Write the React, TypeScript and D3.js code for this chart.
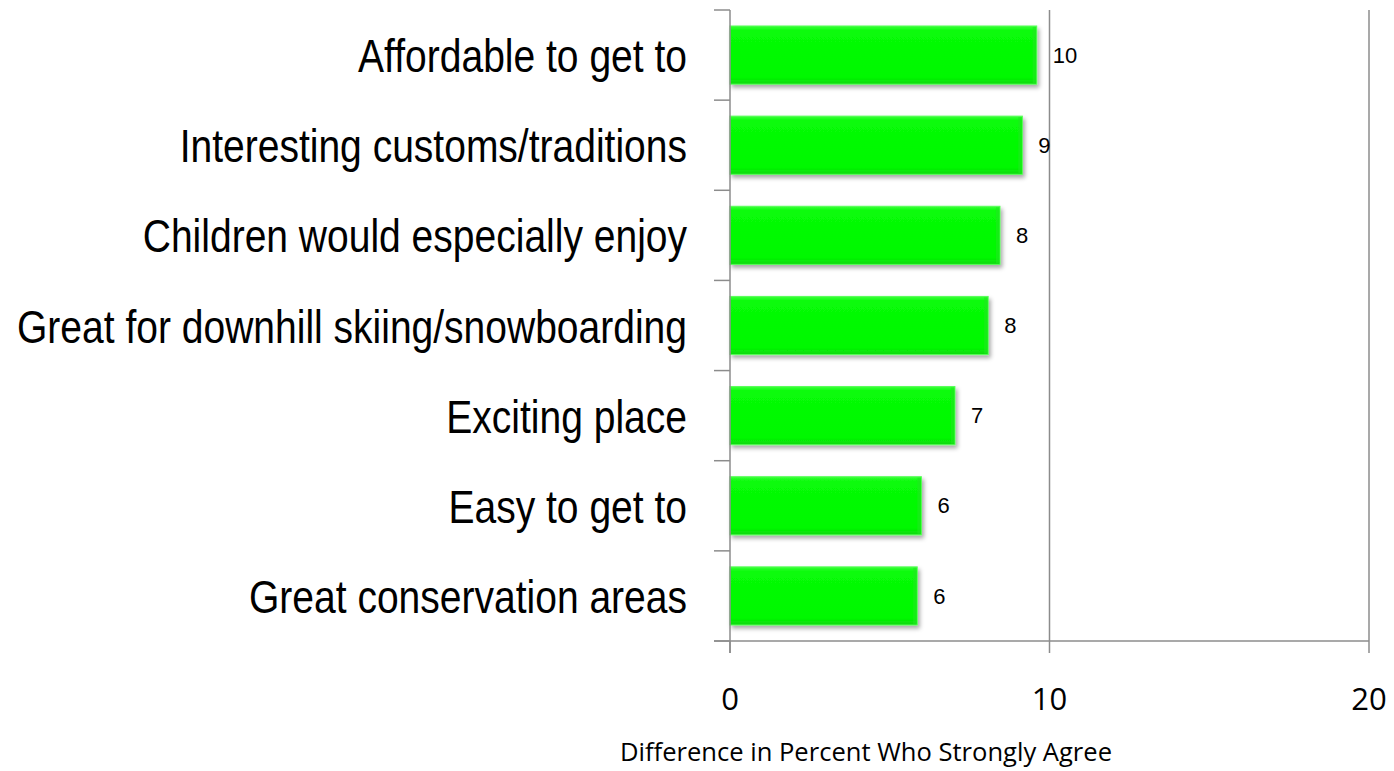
import { useEffect, useRef } from "react";
import * as d3 from "d3";

const categories = [
  "Affordable to get to",
  "Interesting customs/traditions",
  "Children would especially enjoy",
  "Great for downhill skiing/snowboarding",
  "Exciting place",
  "Easy to get to",
  "Great conservation areas",
];
const values = [9.6, 9.15, 8.45, 8.08, 7.04, 5.99, 5.86];
const xTicks = [0, 10, 20];
const xTitle = "Difference in Percent Who Strongly Agree";

export default function App() {
  const svgRef = useRef<SVGSVGElement | null>(null);

  useEffect(() => {
    if (!svgRef.current) return;
    const svg = d3.select(svgRef.current);
    svg.selectAll("*").remove();

    const width = 1394;
    const height = 771;
    const plot = { left: 730, right: 1369, top: 10, bottom: 641 };
    const axisColor = "#8c8c8c";

    const rows = categories.map((name, i) => ({ name, value: values[i] }));

    const x = d3.scaleLinear().domain([0, 20]).range([plot.left, plot.right]);
    const y = d3
      .scaleBand<string>()
      .domain(categories)
      .range([plot.top, plot.bottom])
      .paddingInner(0.355)
      .paddingOuter(0.1775);

    svg.attr("viewBox", `0 0 ${width} ${height}`);

    const defs = svg.append("defs");
    const shadow = defs
      .append("filter")
      .attr("id", "bar-shadow")
      .attr("x", "-10%")
      .attr("y", "-20%")
      .attr("width", "130%")
      .attr("height", "160%");
    shadow
      .append("feDropShadow")
      .attr("dx", 2)
      .attr("dy", 3)
      .attr("stdDeviation", 2)
      .attr("flood-color", "#000")
      .attr("flood-opacity", 0.35);

    const grad = defs
      .append("linearGradient")
      .attr("id", "bar-fill")
      .attr("x1", "0%")
      .attr("y1", "0%")
      .attr("x2", "0%")
      .attr("y2", "100%");
    grad
      .selectAll("stop")
      .data([
        { offset: "0%", color: "#3dff3d" },
        { offset: "8%", color: "#08fb08" },
        { offset: "88%", color: "#00f800" },
        { offset: "100%", color: "#10d810" },
      ])
      .join("stop")
      .attr("offset", (d) => d.offset)
      .attr("stop-color", (d) => d.color);

    // vertical gridlines
    svg
      .append("g")
      .selectAll("line")
      .data(xTicks.filter((t) => t > 0))
      .join("line")
      .attr("x1", (d) => x(d))
      .attr("x2", (d) => x(d))
      .attr("y1", plot.top)
      .attr("y2", plot.bottom)
      .attr("stroke", axisColor)
      .attr("stroke-width", 1.5);

    // bars
    const bars = svg.append("g");
    bars
      .selectAll("rect.bar")
      .data(rows)
      .join("rect")
      .attr("class", "bar")
      .attr("x", x(0))
      .attr("y", (d) => y(d.name)!)
      .attr("width", (d) => x(d.value) - x(0))
      .attr("height", y.bandwidth())
      .attr("fill", "url(#bar-fill)")
      .attr("stroke", "#55ff55")
      .attr("stroke-width", 1)
      .attr("filter", "url(#bar-shadow)");

    // right bevel edge
    bars
      .selectAll("rect.edge")
      .data(rows)
      .join("rect")
      .attr("class", "edge")
      .attr("x", (d) => x(d.value) - 4)
      .attr("y", (d) => y(d.name)! + 1)
      .attr("width", 3.5)
      .attr("height", y.bandwidth() - 2)
      .attr("fill", "#22e622")
      .attr("opacity", 0.6);

    // value labels
    svg
      .append("g")
      .selectAll("text")
      .data(rows)
      .join("text")
      .attr("x", (d) => x(d.value) + 16)
      .attr("y", (d) => y(d.name)! + y.bandwidth() / 2)
      .attr("dy", "0.35em")
      .attr("font-family", "'Liberation Sans', Arial, sans-serif")
      .attr("font-size", 22)
      .attr("fill", "#000")
      .text((d) => Math.round(d.value));

    // left axis
    const yAxis = svg.append("g");
    yAxis
      .append("line")
      .attr("x1", plot.left)
      .attr("x2", plot.left)
      .attr("y1", plot.top)
      .attr("y2", plot.bottom + 12)
      .attr("stroke", axisColor)
      .attr("stroke-width", 1.5);
    const bounds = d3.range(categories.length + 1).map((i) => plot.top + i * y.step());
    yAxis
      .selectAll("line.tick")
      .data(bounds)
      .join("line")
      .attr("class", "tick")
      .attr("x1", plot.left - 16)
      .attr("x2", plot.left)
      .attr("y1", (d) => d)
      .attr("y2", (d) => d)
      .attr("stroke", axisColor)
      .attr("stroke-width", 1.5);
    // category labels: tall, slightly condensed Arial
    yAxis
      .selectAll("text")
      .data(categories)
      .join("text")
      .attr(
        "transform",
        (d) => `translate(${plot.left - 43},${y(d)! + y.bandwidth() / 2 + 17}) scale(0.83,1)`,
      )
      .attr("text-anchor", "end")
      .attr("font-family", "'Liberation Sans', Arial, sans-serif")
      .attr("font-size", 47)
      .attr("fill", "#000")
      .text((d) => d);

    // bottom axis
    const xAxis = svg.append("g");
    xAxis
      .append("line")
      .attr("x1", plot.left - 16)
      .attr("x2", plot.right)
      .attr("y1", plot.bottom)
      .attr("y2", plot.bottom)
      .attr("stroke", axisColor)
      .attr("stroke-width", 1.5);
    xAxis
      .selectAll("line.tick")
      .data(xTicks)
      .join("line")
      .attr("class", "tick")
      .attr("x1", (d) => x(d))
      .attr("x2", (d) => x(d))
      .attr("y1", plot.bottom)
      .attr("y2", plot.bottom + 12)
      .attr("stroke", axisColor)
      .attr("stroke-width", 1.5);
    xAxis
      .selectAll("text.tick-label")
      .data(xTicks)
      .join("text")
      .attr("class", "tick-label")
      .attr("x", (d) => x(d))
      .attr("y", 710)
      .attr("text-anchor", "middle")
      .attr("font-family", "'Open Sans', sans-serif")
      .attr("font-size", 31)
      .attr("fill", "#000")
      .text((d) => d);

    svg
      .append("text")
      .attr("x", 866)
      .attr("y", 761)
      .attr("text-anchor", "middle")
      .attr("font-family", "'Open Sans', sans-serif")
      .attr("font-size", 26)
      .attr("textLength", 492)
      .attr("lengthAdjust", "spacingAndGlyphs")
      .attr("fill", "#000")
      .text(xTitle);
  }, []);

  return (
    <div style={{ position: "fixed", left: 0, top: 0, width: 1394, height: 771, background: "#fff" }}>
      <svg ref={svgRef} width={1394} height={771} style={{ display: "block" }} />
    </div>
  );
}
